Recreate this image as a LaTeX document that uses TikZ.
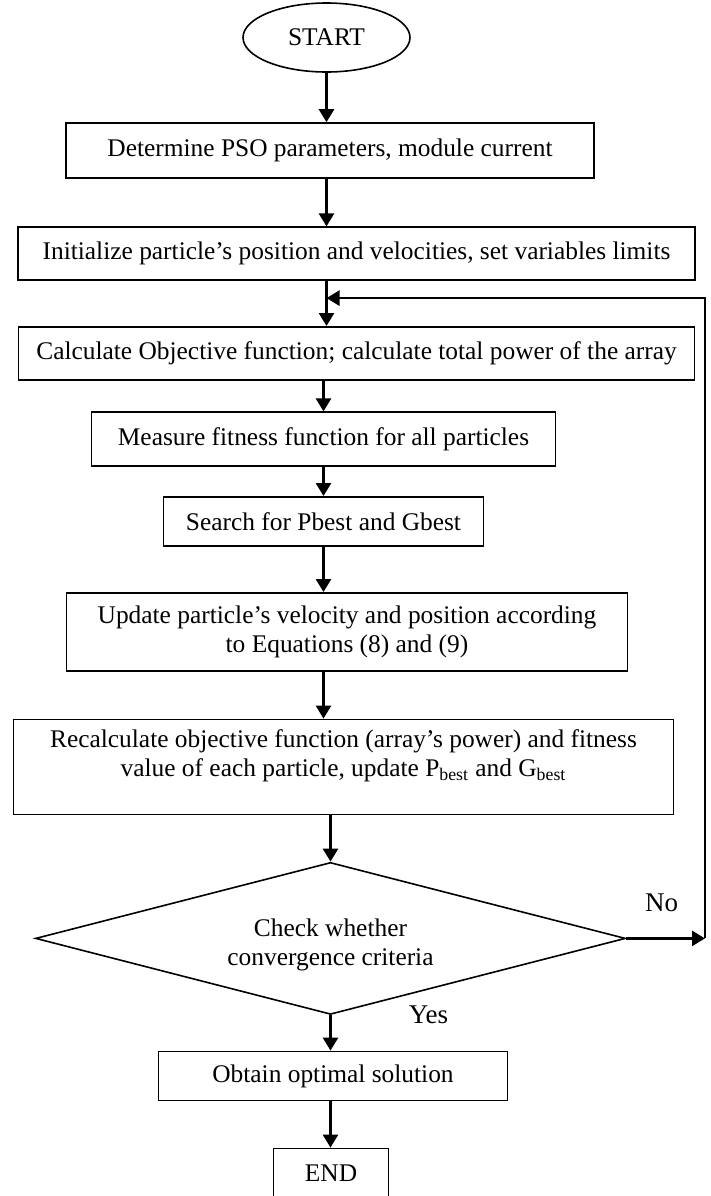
\documentclass[tikz,border=0pt]{standalone}
\usepackage{fontspec}
\setmainfont{Liberation Serif}
\usetikzlibrary{arrows.meta,positioning,shapes.geometric,calc}

\tikzset{
  block/.style={draw, line width=0.8pt, rectangle, align=center, inner sep=3pt},
  decision/.style={draw, line width=0.8pt, diamond, shape aspect=3.88, align=center, inner sep=0pt},
  terminal/.style={draw, line width=0.8pt, ellipse, inner sep=0pt},
  flow/.style={->, line width=1.3pt},
}

\begin{document}
\begin{tikzpicture}[>={Triangle[width=7.5pt,length=6.5pt]},font=\fontsize{12.7}{14.8}\selectfont]

                \useasboundingbox (0,0) rectangle (355.5pt,-598pt);

                \node[terminal, minimum width=83.5pt, minimum height=34.5pt] (start) at (163.25pt,-18.75pt) {START};

                \node[block, minimum width=264pt, minimum height=27.5pt] (det) [below=24.7pt of start, xshift=1.75pt] {Determine PSO parameters, module current};

                \node[block, minimum width=338.5pt, minimum height=26.5pt] (init) [below=23.8pt of det, xshift=13.25pt] {Initialize particle’s position and velocities, set variables limits};

                \node[block, minimum width=338pt, minimum height=26.5pt] (objf) [below=22.5pt of init] {Calculate Objective function; calculate total power of the array};

                \node[block, minimum width=232pt, minimum height=27pt] (meas) [below=15.4pt of objf, xshift=-16.5pt] {Measure fitness function for all particles};

                \node[block, minimum width=160pt, minimum height=24.5pt] (srch) [below=14.5pt of meas] {Search for Pbest and Gbest};

                \node[block, minimum width=280.5pt, minimum height=39pt] (upd) [below=22.7pt of srch, xshift=11.75pt] {Update particle’s velocity and position according\\to Equations (8) and (9)};

                \node[block, minimum width=330pt, minimum height=47.5pt, text depth=14pt] (recalc) [below=23.5pt of upd, xshift=-1.75pt] {Recalculate objective function (array’s power) and fitness\\value of each particle, update P\textsubscript{best} and G\textsubscript{best}};

                \node[decision, minimum width=295pt, minimum height=76pt, text height=30pt] (chk) [below=23.2pt of recalc, xshift=-6.5pt] {Check whether\\convergence criteria};

                \node[block, minimum width=174.5pt, minimum height=24.5pt] (opt) [below=17.7pt of chk, xshift=1.25pt] {Obtain optimal solution};

                \node[block, minimum width=57.5pt, minimum height=25pt] (stop) [below=23.2pt of opt, xshift=-1pt] {END};

                

                \foreach \from/\to/\col in {start/det/start, det/init/start, init/objf/start, objf/meas/meas, meas/srch/meas, srch/upd/meas, upd/recalc/meas, opt/stop/chk}
                    {
                    \draw[flow] (\from.south -| \col) -- (\to.north -| \col);
                    }

                \draw[flow] (recalc.south -| chk) -- (chk.north);

                \draw[flow] (chk.south) -- (opt.north -| chk);

                

                \coordinate (turn) at (352.5pt,0);

                \path (init.south) -- (objf.north) coordinate[pos=0.38] (mid);

                \coordinate (join) at (start |- mid);

                \draw[flow] (chk.east) -- (chk.east -| turn);

                \draw[flow] (chk.east -| turn) |- (join);

                

                \path (chk.east) -- (chk.east -| turn) coordinate[pos=0.45] (nopt);

                \node[font=\fontsize{13.5}{15}\selectfont] (no) [above=10pt of nopt] {No};

                \node[font=\fontsize{13.5}{15}\selectfont] (yes) at ($(chk.south)+(49pt,0)$) {Yes};

            \end{tikzpicture}
\end{document}
